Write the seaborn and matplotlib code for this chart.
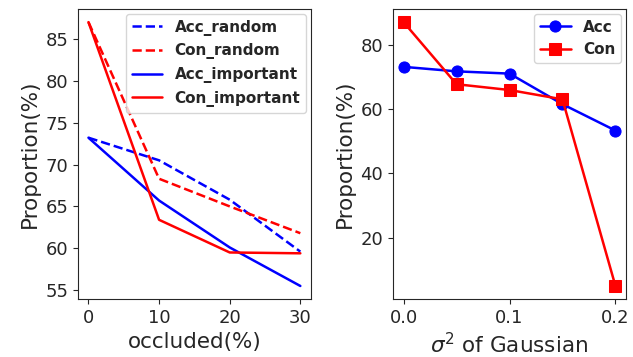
import numpy as np
import pandas as pd
import matplotlib
matplotlib.use("Agg")
import matplotlib.pyplot as plt
import seaborn as sns

occluded = [0, 10, 20, 30]
acc_random = [73.2, 70.5, 65.8, 59.6]
con_random = [87.0, 68.3, 65.0, 61.8]
acc_important = [73.2, 65.7, 60.1, 55.5]
con_important = [87.0, 63.4, 59.5, 59.4]

sigma2 = [0.0, 0.05, 0.1, 0.15, 0.2]
acc_gauss = [73.1, 71.7, 71.0, 61.5, 53.3]
con_gauss = [87.0, 67.7, 65.9, 63.0, 5.0]

sns.set_style("ticks")
plt.rcParams["font.family"] = ["DejaVu Sans"]

fig, (ax1, ax2) = plt.subplots(1, 2, figsize=(6.33, 3.57), dpi=100)
fig.subplots_adjust(left=0.123, right=0.989, top=0.975, bottom=0.162, wspace=0.352)

lw = 1.8
sns.lineplot(x=occluded, y=acc_random, ax=ax1, color="blue", linestyle="--", lw=lw, label="Acc_random")
sns.lineplot(x=occluded, y=con_random, ax=ax1, color="red", linestyle="--", lw=lw, label="Con_random")
sns.lineplot(x=occluded, y=acc_important, ax=ax1, color="blue", lw=lw, label="Acc_important")
sns.lineplot(x=occluded, y=con_important, ax=ax1, color="red", lw=lw, label="Con_important")
ax1.set_xlabel("occluded(%)", fontsize=15.5)
ax1.set_ylabel("Proportion(%)", fontsize=15.5)
ax1.set_xticks([0, 10, 20, 30])
ax1.set_yticks([55, 60, 65, 70, 75, 80, 85])
ax1.tick_params(labelsize=13)
ax1.legend(prop={"weight": "bold", "size": 11}, loc="upper right", borderaxespad=0.3)

sns.lineplot(x=sigma2, y=acc_gauss, ax=ax2, color="blue", marker="o", markersize=8, lw=lw,
             markeredgecolor="blue", label="Acc")
sns.lineplot(x=sigma2, y=con_gauss, ax=ax2, color="red", marker="s", markersize=8, lw=lw,
             markeredgecolor="red", label="Con")
ax2.set_xlabel(r"$\sigma^2$ of Gaussian", fontsize=15.5)
ax2.set_ylabel("Proportion(%)", fontsize=15.5)
ax2.set_xticks([0.0, 0.1, 0.2])
ax2.set_yticks([20, 40, 60, 80])
ax2.tick_params(labelsize=13)
ax2.legend(prop={"weight": "bold", "size": 11}, loc="upper right", borderaxespad=0.3)

for ax in (ax1, ax2):
    for s in ax.spines.values():
        s.set_visible(True)

plt.savefig("out.png", dpi=100)
